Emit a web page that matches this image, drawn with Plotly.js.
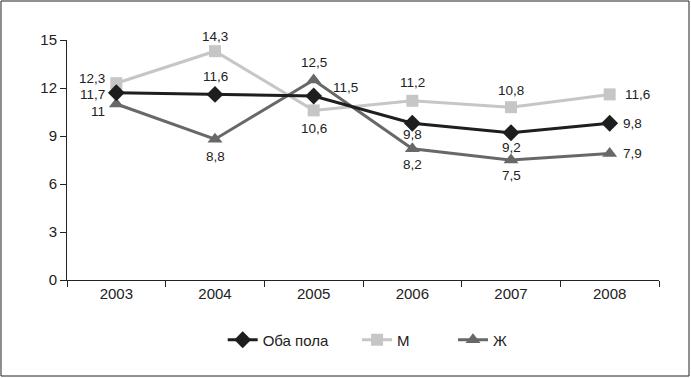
<!DOCTYPE html>
<html><head><meta charset="utf-8">
<script src="https://cdn.plot.ly/plotly-3.0.1.min.js"></script>
<style>html,body{margin:0;padding:0;background:#fff}#c{width:691px;height:378px}</style>
</head><body><div id="c"></div>
<script>
const years = ['2003','2004','2005','2006','2007','2008'];
const both = [11.7, 11.6, 11.5, 9.8, 9.2, 9.8];
const men = [12.3, 14.3, 10.6, 11.2, 10.8, 11.6];
const women = [11, 8.8, 12.5, 8.2, 7.5, 7.9];
const names = ['Оба пола', 'М', 'Ж'];

const fmt = v => String(v).replace('.', ',');
const FAM = 'Liberation Sans, Arial, sans-serif';
const tickFont = {family: FAM, size: 15, color: '#222'};
const labFont = {family: FAM, size: 13.5, color: '#222'};

const colBoth = '#1e1e1e', colM = '#c6c6c6', colF = '#686868';

const traces = [
  {x: years, y: both, name: names[0], legend: 'legend', mode: 'lines+markers',
   line: {color: colBoth, width: 3}, marker: {symbol: 'diamond', size: 13, color: colBoth}, cliponaxis: false},
  {x: years, y: men, name: names[1], legend: 'legend2', mode: 'lines+markers',
   line: {color: colM, width: 3}, marker: {symbol: 'square', size: 12, color: colM}, cliponaxis: false},
  {x: years, y: women, name: names[2], legend: 'legend3', mode: 'lines+markers',
   line: {color: colF, width: 3}, marker: {symbol: 'triangle-up', size: 13, color: colF}, cliponaxis: false}
];
const drawOrder = [traces[1], traces[2], traces[0]];

// label placement per point: [xanchor, xshift, yshift]
const place = {
  both:  [['right',-9,-2],['center',0,18],['center',32,9],['center',0,-11],['center',0,-15],['left',11,0]],
  men:   [['right',-9,5],['center',0,15],['center',0,-18],['center',0,18],['center',0,17],['left',13,0]],
  women: [['right',-9,-7],['center',0,-17],['center',0,18],['center',0,-16],['center',0,-15],['left',11,0]]
};
const annotations = [];
[[both, place.both], [men, place.men], [women, place.women]].forEach(([vals, pl]) => {
  vals.forEach((v, i) => {
    annotations.push({x: i, y: v, xref: 'x', yref: 'y', text: fmt(v), showarrow: false,
      xanchor: pl[i][0], yanchor: 'middle', xshift: pl[i][1], yshift: pl[i][2], font: labFont});
  });
});

const legBase = {orientation: 'h', y: -0.25, yanchor: 'middle', xanchor: 'left',
                 font: {family: FAM, size: 15, color: '#222'}, bgcolor: 'rgba(0,0,0,0)'};

const layout = {
  width: 691, height: 378,
  margin: {l: 67, r: 32, t: 40, b: 98},
  paper_bgcolor: '#fff', plot_bgcolor: '#fff',
  font: tickFont,
  showlegend: true,
  legend: Object.assign({}, legBase, {x: 0.263}),
  legend2: Object.assign({}, legBase, {x: 0.49}),
  legend3: Object.assign({}, legBase, {x: 0.652}),
  xaxis: {type: 'category', range: [-0.5, 5.5], tickson: 'boundaries', ticks: 'outside', ticklen: 6,
          showline: true, linecolor: '#222', linewidth: 1, tickcolor: '#222', showgrid: false,
          zeroline: false, tickfont: tickFont, fixedrange: true},
  yaxis: {range: [0, 15], dtick: 3, ticks: 'outside', ticklen: 6, showline: true, linecolor: '#222',
          linewidth: 1, tickcolor: '#222', showgrid: false, zeroline: false, tickfont: tickFont, fixedrange: true},
  annotations: annotations,
  shapes: [{type: 'rect', xref: 'paper', yref: 'paper', x0: -0.1115, x1: 1.0507, y0: -0.4, y1: 1.1625,
            line: {color: '#222', width: 1}}]
};

Plotly.newPlot('c', drawOrder, layout, {staticPlot: true});
</script></body></html>
